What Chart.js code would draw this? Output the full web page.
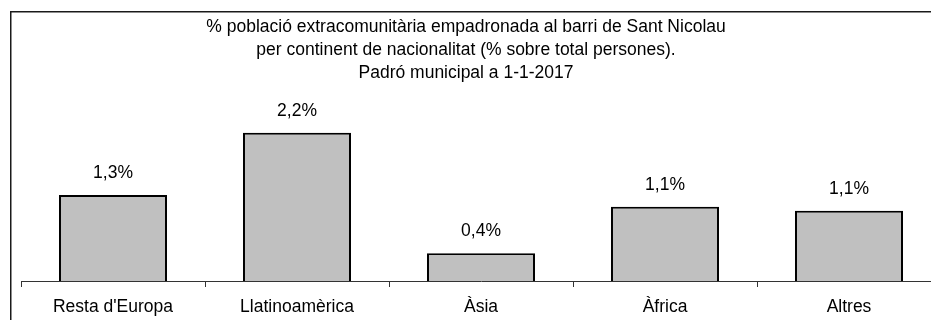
<!DOCTYPE html>
<html>
<head>
<meta charset="utf-8">
<script src="https://cdn.jsdelivr.net/npm/chart.js@4/dist/chart.umd.min.js"></script>
<style>
  html, body { margin: 0; padding: 0; background: #fff; overflow: hidden; }
  #wrap { width: 960px; height: 332px; }
</style>
</head>
<body>
<div id="wrap"><canvas id="c" width="960" height="332"></canvas></div>
<script>
const categories = ["Resta d'Europa", "Llatinoamèrica", "Àsia", "Àfrica", "Altres"];
const values = [1.3, 2.24, 0.42, 1.12, 1.06];
const titleLines = [
  "% població extracomunitària empadronada al barri de Sant Nicolau",
  "per continent de nacionalitat (% sobre total persones).",
  "Padró municipal a 1-1-2017"
];

const FONT = "'Liberation Sans', Arial, Helvetica, sans-serif";
const FSIZE = 17.5;

const framePlugin = {
  id: 'frame',
  beforeDraw(chart) {
    const ctx = chart.ctx;
    ctx.save();
    ctx.fillStyle = '#fff';
    ctx.fillRect(0, 0, chart.width, chart.height);
    ctx.strokeStyle = '#1a1a1a';
    ctx.lineWidth = 1.5;
    ctx.strokeRect(10.75, 11.75, 2000, 2000);
    ctx.restore();
  }
};

const titlePlugin = {
  id: 'customTitle',
  afterDraw(chart) {
    const ctx = chart.ctx;
    ctx.save();
    ctx.fillStyle = '#000';
    ctx.font = FSIZE + 'px ' + FONT;
    ctx.textAlign = 'center';
    ctx.textBaseline = 'middle';
    titleLines.forEach((t, i) => ctx.fillText(t, 466, 27 + i * 23));
    ctx.restore();
  }
};

const valueLabels = {
  id: 'valueLabels',
  afterDatasetsDraw(chart) {
    const ctx = chart.ctx;
    const meta = chart.getDatasetMeta(0);
    ctx.save();
    ctx.fillStyle = '#000';
    ctx.font = FSIZE + 'px ' + FONT;
    ctx.textAlign = 'center';
    ctx.textBaseline = 'middle';
    meta.data.forEach((bar, i) => {
      const txt = values[i].toFixed(1).replace('.', ',') + '%';
      ctx.fillText(txt, bar.x, bar.y - 22);
    });
    ctx.restore();
  }
};

new Chart(document.getElementById('c'), {
  type: 'bar',
  data: {
    labels: categories,
    datasets: [{
      data: values,
      backgroundColor: '#c0c0c0',
      borderColor: '#000',
      borderWidth: 2,
      borderSkipped: 'start',
      barPercentage: 0.587,
      categoryPercentage: 1.0
    }]
  },
  options: {
    responsive: false,
    animation: false,
    devicePixelRatio: 1,
    layout: { padding: { left: 21, right: 19, top: 89, bottom: 4 } },
    plugins: {
      legend: { display: false },
      title: { display: false },
      tooltip: { enabled: false }
    },
    scales: {
      x: {
        offset: true,
        grid: {
          display: true,
          offset: true,
          drawOnChartArea: false,
          drawTicks: true,
          tickLength: 6,
          color: '#333',
          lineWidth: 1
        },
        border: { display: true, color: '#333', width: 1 },
        ticks: {
          color: '#000',
          font: { family: FONT, size: FSIZE },
          padding: 10,
          maxRotation: 0,
          autoSkip: false
        }
      },
      y: {
        display: false,
        min: 0,
        max: 2.9
      }
    }
  },
  plugins: [framePlugin, titlePlugin, valueLabels]
});
</script>
</body>
</html>
